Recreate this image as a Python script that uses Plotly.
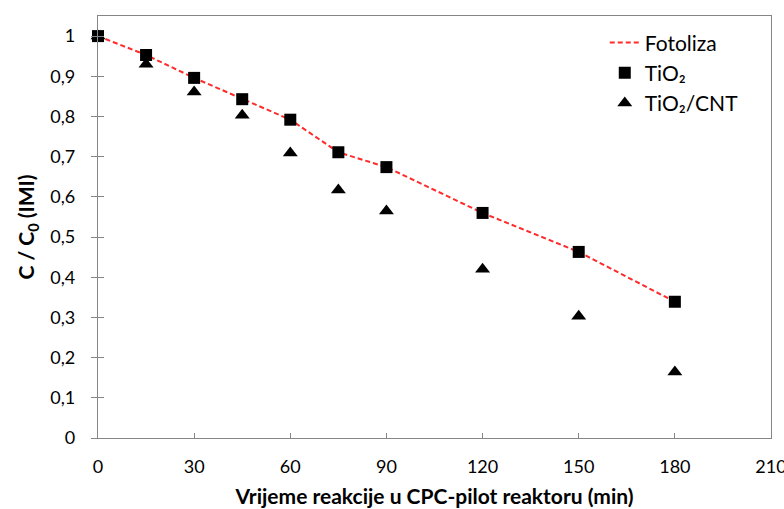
import plotly.graph_objects as go

# Reaction time (min)
time_min = [0, 15, 30, 45, 60, 75, 90, 120, 150, 180]

# C / C0 values
fotoliza = [1.0, 0.953, 0.896, 0.843, 0.792, 0.711, 0.674, 0.560, 0.463, 0.339]
tio2 = [1.0, 0.953, 0.896, 0.843, 0.792, 0.711, 0.674, 0.560, 0.463, 0.339]
tio2_cnt = [1.0, 0.930, 0.861, 0.803, 0.709, 0.617, 0.565, 0.420, 0.303, 0.164]

x_ticks = [0, 30, 60, 90, 120, 150, 180, 210]

font_family = "Lato, 'Open Sans', sans-serif"
axis_grey = "#868686"

fig = go.Figure()

# Photolysis as a red dashed line
fig.add_trace(go.Scatter(
    x=time_min, y=fotoliza, name="Fotoliza", mode="lines",
    line=dict(color="#ff2a2a", width=2, dash="5px,3px"),
    yaxis="y", cliponaxis=False,
))
# Catalyst series as markers (on overlay axis so they sit above the line)
fig.add_trace(go.Scatter(
    x=time_min, y=tio2, name="TiO₂", mode="markers",
    marker=dict(symbol="square", size=12, color="black"),
    yaxis="y2", cliponaxis=False,
))
fig.add_trace(go.Scatter(
    x=time_min, y=tio2_cnt, name="TiO₂/CNT", mode="markers",
    marker=dict(symbol="triangle-up", size=13, color="black"),
    yaxis="y2", cliponaxis=False,
))

yrange = [0, 1.05]

fig.update_layout(
    width=784, height=509,
    margin=dict(l=98, r=13, t=16, b=71),
    paper_bgcolor="white", plot_bgcolor="white",
    separators=", ",
    font=dict(family=font_family, size=18, color="black"),
    showlegend=True,
    legend=dict(
        x=0.753, y=0.985, xanchor="left", yanchor="top",
        bgcolor="rgba(0,0,0,0)", font=dict(size=21),
        itemwidth=30, tracegroupgap=0,
    ),
    xaxis=dict(
        range=[0, 210], tickvals=x_ticks, ticks="inside", ticklen=5,
        tickcolor=axis_grey, showline=True, linecolor=axis_grey, linewidth=1.3,
        mirror=True, showgrid=False, zeroline=False, automargin=False,
        ticklabeloverflow="allow", ticklabelstandoff=12,
        title=dict(text="<b>Vrijeme reakcije u CPC-pilot reaktoru (min)</b>",
                   font=dict(size=21), standoff=13),
        tickfont=dict(size=18),
    ),
    yaxis=dict(
        range=yrange, dtick=0.1, tick0=0, ticks="outside", ticklen=6,
        tickcolor=axis_grey, showline=True, linecolor=axis_grey, linewidth=1.3,
        mirror=True, showgrid=False, zeroline=False, automargin=False,
        ticklabelstandoff=12,
        title=dict(text="<b>C / C<sub>0</sub> (IMI)</b>", font=dict(size=21), standoff=9),
        tickfont=dict(size=18),
    ),
    yaxis2=dict(
        range=yrange, dtick=0.1, tick0=0, overlaying="y", side="left",
        ticks="inside", ticklen=6, tickcolor=axis_grey, automargin=False,
        showticklabels=False, showline=False, showgrid=False, zeroline=False,
    ),
)

# drop the default page margin so the 784x509 figure fills the window
fig.write_html("out.html", config={"displayModeBar": False},
               post_script="document.body.style.margin='0';")
